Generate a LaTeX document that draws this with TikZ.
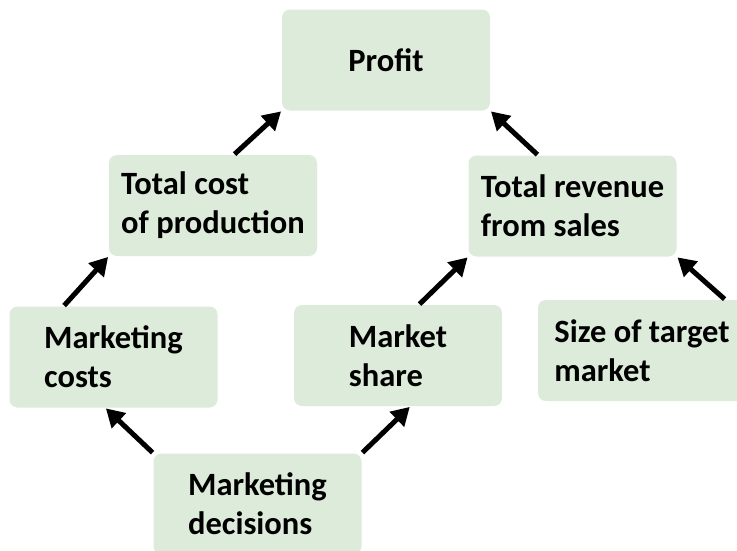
\documentclass[tikz,border=0pt]{standalone}
\usepackage{fontspec}
\setmainfont{Carlito}
\usetikzlibrary{arrows.meta,calc}
\definecolor{boxgreen}{HTML}{DDEBDA}
\tikzset{
  baseline = (current bounding box.center),
}

\begin{document}
\begin{tikzpicture}[
      x=1pt,y=-1pt,
      box/.style={fill=boxgreen,rounded corners=8pt,minimum width=208pt,minimum height=101pt,
        align=left,font=\fontsize{32.5}{39}\selectfont\bfseries,inner sep=0pt},
      link/.style={line width=5pt,-{Triangle[length=18pt,width=20pt]},shorten <=1pt,shorten >=1pt}
      ]
      \useasboundingbox (0,0) rectangle (737,550);
      \node[box] (profit) at (386,60) {Profit};
      \node[box] (cost) at (213,205.5) {Total cost\\of production};
      \node[box] (revenue) at (572.5,206) {Total revenue\\from sales};
      \node[box] (mcosts) at (113.5,357) {Marketing\\costs};
      \node[box] (share) at (398,355.5) {Market\\share};
      \node[box] (size) at (642,350.5) {Size of target\\market};
      \node[box] (decide) at (257.5,504) {Marketing\\decisions};
      \draw[link] ($(cost.north west)!0.6!(cost.north east)$) -- (profit.south west);
      \draw[link] ($(revenue.north west)!0.335!(revenue.north east)$) -- (profit.south east);
      \draw[link] ($(mcosts.north west)!0.26!(mcosts.north east)$) -- (cost.south west);
      \draw[link] ($(share.north west)!0.6!(share.north east)$) -- (revenue.south west);
      \draw[link] ($(size.north west)!0.9!(size.north east)$) -- (revenue.south east);
      \draw[link] (decide.north west) -- ($(mcosts.south west)!0.46!(mcosts.south east)$);
      \draw[link] (decide.north east) -- ($(share.south west)!0.56!(share.south east)$);
    \end{tikzpicture}
\end{document}
